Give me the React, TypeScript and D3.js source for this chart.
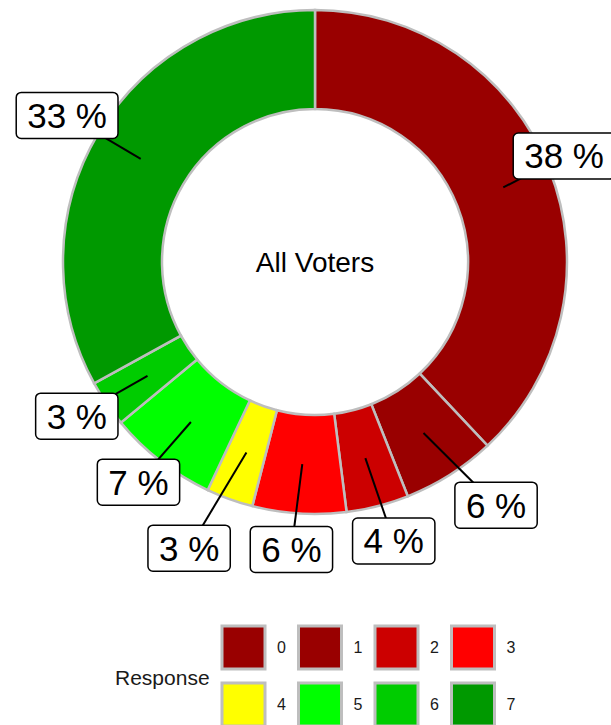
import * as d3 from 'd3';

const responses = ['0', '1', '2', '3', '4', '5', '6', '7'];
const shares = [38, 6, 4, 6, 3, 7, 3, 33];
const colors = ['#990000', '#990000', '#CC0000', '#FF0000', '#FFFF00', '#00FF00', '#00CC00', '#009900'];
const centerLabel = 'All Voters';
const legendTitle = 'Response';

const W = 611;
const H = 725;
const FONT = 'Liberation Sans, Arial, Helvetica, sans-serif';

function measure(text: string, size: number) {
  const ctx = document.createElement('canvas').getContext('2d');
  if (!ctx) return text.length * size * 0.55;
  ctx.font = `${size}px ${FONT}`;
  return ctx.measureText(text).width;
}

type Box = { x: number; y: number; w: number; h: number };

// simple ggrepel-like layout: start on a ring, push overlapping boxes apart
// along the axis with the smallest overlap
function repel(boxes: Box[], pad: number) {
  for (let it = 0; it < 400; it++) {
    for (let i = 0; i < boxes.length; i++) {
      for (let j = i + 1; j < boxes.length; j++) {
        const a = boxes[i];
        const b = boxes[j];
        const dx = b.x - a.x;
        const dy = b.y - a.y;
        const ox = (a.w + b.w) / 2 + pad - Math.abs(dx);
        const oy = (a.h + b.h) / 2 + pad - Math.abs(dy);
        if (ox > 0 && oy > 0) {
          if (ox < oy) {
            const s = (Math.sign(dx) || 1) * ox * 0.1;
            a.x -= s;
            b.x += s;
          } else {
            const s = (Math.sign(dy) || 1) * oy * 0.1;
            a.y -= s;
            b.y += s;
          }
        }
      }
    }
  }
  // keep the text inside the page (the box may touch the edge)
  boxes.forEach((b) => {
    b.x = Math.min(W - b.w / 2 + 4, Math.max(b.w / 2 - 4, b.x));
  });
  return boxes;
}

export default function App() {
  const cx = 315;
  const cy = 262;
  const outerR = 252;
  const innerR = 153;
  const labelR = 288;
  const fontSize = 35;

  const pie = d3.pie<number>().sort(null).value((d) => d);
  const arcs = pie(shares);
  const arc = d3.arc<d3.PieArcDatum<number>>().innerRadius(innerR).outerRadius(outerR);
  const midR = (innerR + outerR) / 2;

  const labels = arcs.map((a) => {
    const ang = (a.startAngle + a.endAngle) / 2;
    const text = `${a.data} %`;
    return {
      text,
      px: cx + midR * Math.sin(ang),
      py: cy - midR * Math.cos(ang),
      x: cx + labelR * Math.sin(ang),
      y: cy - labelR * Math.cos(ang),
      w: measure(text, fontSize) + 22,
      h: 46,
    };
  });
  repel(labels, 20);

  // legend layout
  const keySize = 43;
  const colStep = 76.5;
  const rowStep = 57;
  const keyX = 222;
  const keyY = 626;

  return (
    <svg
      width={W}
      height={H}
      style={{ position: 'absolute', left: 0, top: 0, background: '#fff' }}
      fontFamily={FONT}
    >
      <g transform={`translate(${cx},${cy})`}>
        {arcs.map((a, i) => (
          <path key={i} d={arc(a) ?? ''} fill={colors[i]} stroke="#BEBEBE" strokeWidth={2.5} />
        ))}
      </g>
      <text x={cx} y={cy} fontSize={28} textAnchor="middle" dominantBaseline="central" fill="#000">
        {centerLabel}
      </text>

      {labels.map((l, i) => (
        <line key={`s${i}`} x1={l.px} y1={l.py} x2={l.x} y2={l.y} stroke="#000" strokeWidth={2} />
      ))}
      {labels.map((l, i) => (
        <g key={`l${i}`}>
          <rect
            x={l.x - l.w / 2}
            y={l.y - l.h / 2}
            width={l.w}
            height={l.h}
            rx={5}
            fill="#fff"
            stroke="#000"
            strokeWidth={1.5}
          />
          <text x={l.x} y={l.y} fontSize={fontSize} textAnchor="middle" dominantBaseline="central" fill="#000">
            {l.text}
          </text>
        </g>
      ))}

      <text x={115} y={677} fontSize={21} dominantBaseline="central" fill="#1a1a1a">
        {legendTitle}
      </text>
      {responses.map((r, i) => {
        const col = i % 4;
        const row = Math.floor(i / 4);
        const x = keyX + col * colStep;
        const y = keyY + row * rowStep;
        return (
          <g key={r}>
            <rect x={x} y={y} width={keySize} height={keySize} fill={colors[i]} stroke="#BEBEBE" strokeWidth={3} />
            <text x={x + 55} y={y + keySize / 2} fontSize={16} dominantBaseline="central" fill="#1a1a1a">
              {r}
            </text>
          </g>
        );
      })}
    </svg>
  );
}
